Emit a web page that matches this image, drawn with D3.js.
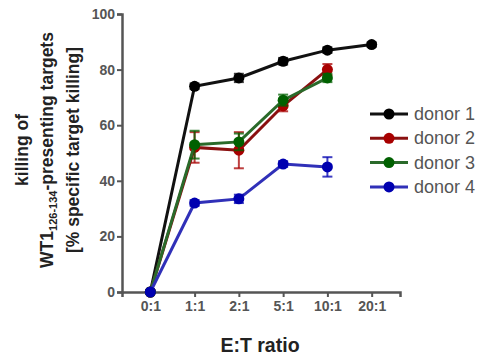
<!DOCTYPE html>
<html><head><meta charset="utf-8">
<script src="https://cdn.jsdelivr.net/npm/d3@7"></script>
<style>body{margin:0;background:#fff}svg{display:block;font-family:"Liberation Sans",Arial,sans-serif}</style>
</head><body><svg id="c" width="485" height="359"></svg>
<script>
const categories = ["0:1","1:1","2:1","5:1","10:1","20:1"];
const yTicks = [0,20,40,60,80,100];
const seriesNames = ["donor 1","donor 2","donor 3","donor 4"];
const seriesColors = ["#000000","#a80000","#006000","#0000b0"];
const lineColors = ["#111111","#8a1010","#2a6a2a","#3030b8"];
const donor1 = [0,74,77,83,87,89];
const donor2 = [0,52,51,67,80,null];
const donor3 = [0,53,54,69,77,null];
const donor4 = [0,32,33.5,46,45,null];
const err1 = [0,1,1.5,1.2,1,0.8];
const err2 = [0,5.5,6.5,2,2,null];
const err3 = [0,5,3,2,1.5,null];
const err4 = [0,1,1.5,1,3.5,null];
const values = [donor1,donor2,donor3,donor4];
const errs = [err1,err2,err3,err4];

const svg = d3.select("#c");
const x = d3.scalePoint().domain(categories).range([122,400]).padding(0.64);
const y = d3.scaleLinear().domain([0,100]).range([292,14]);

// axes
const gy = svg.append("g").attr("transform","translate(122,0)")
  .call(d3.axisLeft(y).tickValues(yTicks).tickSize(5).tickPadding(2));
const gx = svg.append("g").attr("transform","translate(0,292)")
  .call(d3.axisBottom(x).tickSize(5).tickPadding(4));
[gx,gy].forEach(g=>{
  g.select(".domain").attr("stroke","#555").attr("stroke-width",2.5);
  g.selectAll(".tick line").attr("stroke","#555").attr("stroke-width",2);
  g.selectAll(".tick text").attr("fill","#555").attr("font-size",14).attr("font-weight","bold")
    .attr("font-family","'Liberation Sans',Arial,sans-serif");
});

// series
values.forEach((vals,i)=>{
  const pts = vals.map((v,j)=>({c:categories[j],v,e:errs[i][j]})).filter(d=>d.v!==null);
  const g = svg.append("g");
  g.append("path").datum(pts)
    .attr("d",d3.line().x(d=>x(d.c)).y(d=>y(d.v)))
    .attr("fill","none").attr("stroke",lineColors[i]).attr("stroke-width",3);
  pts.filter(d=>d.e>0).forEach(d=>{
    const cx=x(d.c);
    g.append("line").attr("x1",cx).attr("x2",cx).attr("y1",y(d.v+d.e)).attr("y2",y(d.v-d.e))
      .attr("stroke",seriesColors[i]).attr("stroke-width",2).attr("opacity",0.75);
    [d.v+d.e,d.v-d.e].forEach(t=>g.append("line").attr("x1",cx-5).attr("x2",cx+5)
      .attr("y1",y(t)).attr("y2",y(t)).attr("stroke",seriesColors[i]).attr("stroke-width",2).attr("opacity",0.75));
  });
  g.selectAll("circle").data(pts).join("circle")
    .attr("cx",d=>x(d.c)).attr("cy",d=>y(d.v)).attr("r",5.5).attr("fill",seriesColors[i]);
});

// legend
const leg = svg.append("g");
seriesNames.forEach((n,i)=>{
  const ly = 114 + i*24.3;
  leg.append("line").attr("x1",370).attr("x2",408).attr("y1",ly).attr("y2",ly)
    .attr("stroke",lineColors[i]).attr("stroke-width",3);
  leg.append("circle").attr("cx",389).attr("cy",ly).attr("r",5.5).attr("fill",seriesColors[i]);
  leg.append("text").attr("x",414).attr("y",ly+6).attr("font-size",18).attr("fill","#555").text(n);
});

// axis titles
svg.append("text").attr("x",260).attr("y",352).attr("text-anchor","middle")
  .attr("font-size",19.5).attr("font-weight","bold").attr("fill","#222").text("E:T ratio");
const yt = svg.append("g").attr("font-weight","bold").attr("font-size",17.5).attr("fill","#222");
const cy = 150;
yt.append("text").attr("transform",`translate(28,${cy}) rotate(-90)`).attr("text-anchor","middle").text("killing of");
const t2 = yt.append("text").attr("transform",`translate(53,${cy}) rotate(-90)`).attr("text-anchor","middle");
t2.append("tspan").text("WT1");
t2.append("tspan").attr("font-size",11).attr("dy",3.5).text("126-134");
t2.append("tspan").attr("dy",-3.5).text("-presenting targets");
yt.append("text").attr("transform",`translate(79,${cy}) rotate(-90)`).attr("text-anchor","middle").text("[% specific target killing]");
</script></body></html>
